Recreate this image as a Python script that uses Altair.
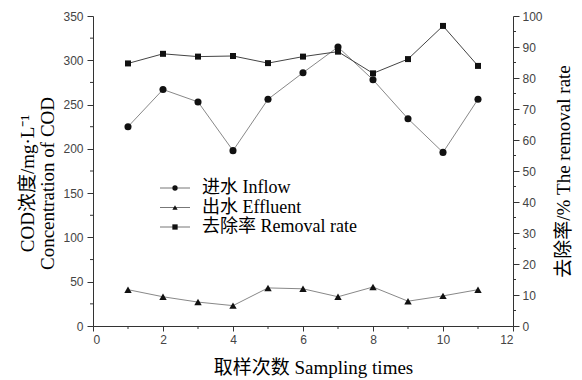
import altair as alt
import pandas as pd

samples = [1, 2, 3, 4, 5, 6, 7, 8, 9, 10, 11]
inflow = [225, 267, 253, 198, 256, 286, 315, 278, 234, 196, 256]
effluent = [41, 33, 27, 23, 43, 42, 33, 44, 28, 34, 41]
removal = [84.7, 87.8, 86.9, 87.1, 84.8, 86.9, 88.5, 81.5, 86.1, 96.8, 83.9]

legend_labels = ["进水 Inflow", "出水 Effluent", "去除率 Removal rate"]
legend_shapes = ["circle", "triangle-up", "square"]

x_title = "取样次数 Sampling times"
left_title = ["COD浓度/mg·L⁻¹", "Concentration of COD"]
right_title = "去除率/% The removal rate"

x_major = [0, 2, 4, 6, 8, 10, 12]
x_minor = [1, 3, 5, 7, 9, 11]
left_major = [0, 50, 100, 150, 200, 250, 300, 350]
left_minor = [25, 75, 125, 175, 225, 275, 325]
right_major = [0, 10, 20, 30, 40, 50, 60, 70, 80, 90, 100]
right_minor = [5, 15, 25, 35, 45, 55, 65, 75, 85, 95]

df = pd.DataFrame({"sample": samples, "inflow": inflow, "effluent": effluent, "removal": removal})
legend_df = pd.DataFrame({"row": [0, 1, 2], "label": legend_labels, "shape": legend_shapes})

SERIF = "Liberation Serif, Noto Sans CJK SC"
SANS = "Liberation Sans"
AX = "#333333"
W, H = 420, 310

common_axis = dict(
    grid=False, domainColor=AX, tickColor=AX, domainWidth=1, tickWidth=1,
    labelFont=SANS, labelFontSize=12, labelColor="#444444",
    titleFont=SERIF, titleFontSize=19, titleFontWeight="normal", titleColor="#000000",
    titleAlign="center", titleBaseline="middle",
)

x_axis = alt.Axis(values=x_major, tickSize=5, labelPadding=3,
                  title=x_title, titleX=220, titleY=41, **common_axis)
left_axis = alt.Axis(orient="left", values=left_major, tickSize=6, labelPadding=4,
                     title=left_title, titleX=-66, titleY=167, titleAngle=270,
                     titleLineHeight=20, **common_axis)
right_axis = alt.Axis(orient="right", values=right_major, tickSize=6, labelPadding=3,
                      title=right_title, titleX=50, titleY=155, titleAngle=270, **common_axis)

xs = alt.Scale(domain=[0, 12], nice=False, zero=False)
ls = alt.Scale(domain=[0, 350], nice=False)
rs = alt.Scale(domain=[0, 100], nice=False)

base = alt.Chart(df)


def xenc(field="sample"):
    return alt.X(f"{field}:Q", scale=xs, axis=x_axis)


def yl(field):
    return alt.Y(f"{field}:Q", scale=ls, axis=left_axis)


def yr(field):
    return alt.Y(f"{field}:Q", scale=rs, axis=right_axis)


inflow_line = base.mark_line(color="#888888", strokeWidth=1).encode(x=xenc(), y=yl("inflow"))
inflow_pts = base.mark_point(shape="circle", filled=True, size=50, color="#111111", opacity=1).encode(
    x=xenc(), y=yl("inflow"))
eff_line = base.mark_line(color="#888888", strokeWidth=1).encode(x=xenc(), y=yl("effluent"))
eff_pts = base.mark_point(shape="triangle-up", filled=True, size=55, color="#111111", opacity=1).encode(
    x=xenc(), y=yl("effluent"))
left_minor_ticks = alt.Chart(pd.DataFrame({"v": left_minor})).mark_rule(color=AX, strokeWidth=1).encode(
    y=yl("v"), x=alt.value(-3), x2=alt.value(0))
x_minor_ticks = alt.Chart(pd.DataFrame({"s": x_minor})).mark_rule(color=AX, strokeWidth=1).encode(
    x=xenc("s"), y=alt.value(H), y2=alt.value(H + 3))
left = alt.layer(inflow_line, inflow_pts, eff_line, eff_pts, left_minor_ticks, x_minor_ticks)

rem_line = base.mark_line(color="#444444", strokeWidth=1).encode(x=xenc(), y=yr("removal"))
rem_pts = base.mark_point(shape="square", filled=True, size=36, color="#111111", opacity=1).encode(
    x=xenc(), y=yr("removal"))
right_minor_ticks = alt.Chart(pd.DataFrame({"v": right_minor})).mark_rule(color=AX, strokeWidth=1).encode(
    y=yr("v"), x=alt.value(W), x2=alt.value(W + 3))
right = alt.layer(rem_line, rem_pts, right_minor_ticks)

ly = alt.Scale(domain=[0, 2], range=[172, 211])
lbase = alt.Chart(legend_df)
leg_rule = lbase.mark_rule(color="#777777", strokeWidth=1).encode(
    x=alt.value(67), x2=alt.value(97), y=alt.Y("row:Q", scale=ly, axis=None))
leg_pts = lbase.mark_point(filled=True, size=28, color="#111111", opacity=1).encode(
    x=alt.value(82), y=alt.Y("row:Q", scale=ly, axis=None),
    shape=alt.Shape("label:N", scale=alt.Scale(domain=legend_labels, range=legend_shapes), legend=None))
leg_txt = lbase.mark_text(align="left", baseline="middle", font=SERIF, fontSize=18, color="#000000").encode(
    x=alt.value(109), y=alt.Y("row:Q", scale=ly, axis=None), text="label:N")
legend = alt.layer(leg_rule, leg_pts, leg_txt)

chart = alt.layer(left, right, legend).resolve_scale(y="independent").properties(
    width=W, height=H,
    autosize=alt.AutoSizeParams(type="none"),
    padding={"left": 85, "top": 8, "right": 61, "bottom": 56},
    background="white",
).configure_view(stroke=None)

chart.save("out.html", embed_options={"renderer": "svg", "actions": False})
